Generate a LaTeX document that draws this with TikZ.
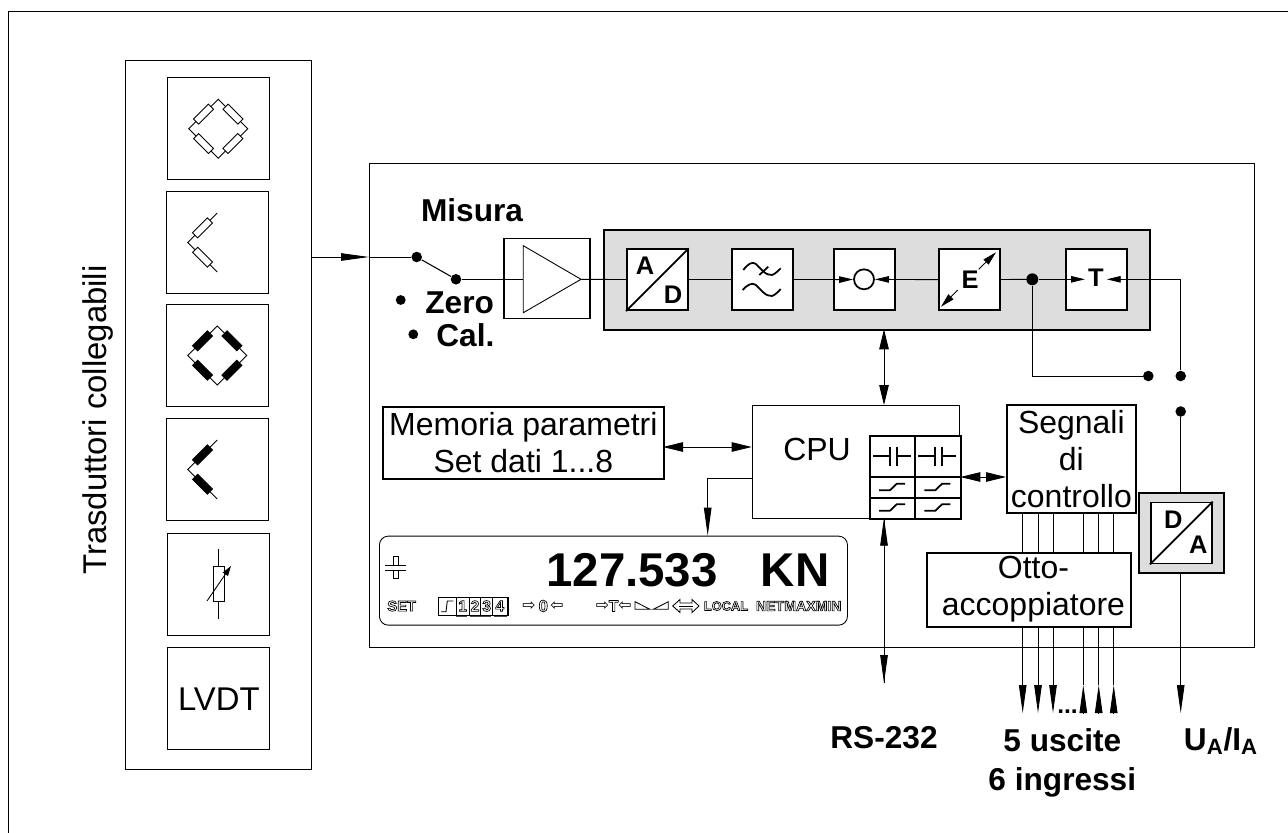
\documentclass[tikz,border=0pt]{standalone}
\usepackage{xcolor}
\usepackage{fontspec}
\setmainfont{Liberation Sans}
\newfontfamily\symfont{DejaVu Sans}
\usetikzlibrary{arrows.meta, positioning, shapes.geometric}
\definecolor{panelgray}{RGB}{221,221,221}
\newcommand{\fs}[1]{\fontsize{#1}{#1}\selectfont}
\newcommand{\hollow}[1]{\special{pdf:code 1 Tr 0.38 w}#1\special{pdf:code 0 Tr}}
\begin{document}
\begin{tikzpicture}[
        x=0.02cm, y=-0.02cm,
        box/.style={rectangle, draw, line width=0.6pt, fill=white, inner sep=0pt, align=center},
        thickbox/.style={rectangle, draw, line width=1pt, fill=white, inner sep=0pt, align=center},
        panel/.style={rectangle, draw, line width=1.1pt, fill=panelgray, inner sep=0pt},
        dot/.style={circle, fill=black, inner sep=0pt, minimum size=6pt},
        smalldot/.style={circle, fill=black, inner sep=0pt, minimum size=5.6pt},
        link/.style={line width=0.5pt},
        arrow/.style={link, -{Triangle[length=5.6mm, width=1.5mm]}},
        shortarrow/.style={link, -{Triangle[length=2.8mm, width=1.3mm]}},
        both/.style={link, {Triangle[length=4mm, width=1.9mm]}-{Triangle[length=4mm, width=1.9mm]}},
        sym/.style={line width=0.5pt},
        iconline/.style={line width=1pt},
        arm/.pic={\draw[sym, fill=#1] (-10.5,-3.6) rectangle (10.5,3.6);},
        label/.style={font=\fs{18}\bfseries, inner sep=0pt, align=center},
        letter/.style={font=\fs{14.5}\bfseries, inner sep=0pt},
        plain/.style={font=\fs{18.2}, inner sep=0pt, align=center},
        lcd/.style={inner sep=0pt}
    ]
    \useasboundingbox (0,0) rectangle (1288,832);
    \fill[white] (0,0) rectangle (1288,832);
    \draw[line width=0.8pt] (8.5,1000) -- (8.5,11.5) -- (1400,11.5);

    % transducer column
    \node[box, minimum width=0.02cm*186, minimum height=0.02cm*709, anchor=north west] (column) at (125,60) {};
    \foreach \name/\xx/\yy in {bridgeA/166.7/77.3, halfA/165.7/191, bridgeB/165.7/304, halfB/165.7/418, pot/167.3/532.7, lvdt/167.3/647.3}
        \node[box, minimum width=2.04cm, minimum height=2.04cm, anchor=north west] (\name) at (\xx,\yy) {};
    \node[plain, font=\fs{18.7}] at (lvdt.center) {LVDT};
    \node[plain, font=\fs{18.7}, rotate=90] (title) at (98,420) {Trasduttori collegabili};

    % resistor arms of the bridges
    \foreach \name/\col in {bridgeA/white, bridgeB/black} {
        \draw[sym] ([xshift=-0.59cm]\name.center) -- ([yshift=0.59cm]\name.center) -- ([xshift=0.59cm]\name.center) -- ([yshift=-0.59cm]\name.center) -- cycle;
        \path (\name.center) ++(-14.7,14.7) pic[rotate=-45] {arm=\col};
        \path (\name.center) ++(14.7,14.7) pic[rotate=45] {arm=\col};
        \path (\name.center) ++(-14.7,-14.7) pic[rotate=45] {arm=\col};
        \path (\name.center) ++(14.7,-14.7) pic[rotate=-45] {arm=\col};
    }
    \foreach \name/\col in {halfA/white, halfB/black} {
        \draw[sym] ([yshift=-0.59cm]\name.center) -- ([xshift=-0.59cm]\name.center) -- ([yshift=0.59cm]\name.center);
        \path (\name.center) ++(-14.7,14.7) pic[rotate=-45] {arm=\col};
        \path (\name.center) ++(-14.7,-14.7) pic[rotate=45] {arm=\col};
    }
    \draw[sym] (218.7,549) -- (218.7,619);
    \draw[sym, fill=white] (213,566) rectangle (224,601);
    \draw[sym, -{Triangle[length=2mm, width=1.2mm]}] (207,601) -- (231,566);

    % main unit
    \node[box, minimum width=0.02cm*885, minimum height=0.02cm*484, anchor=north west] (unit) at (369,163) {};
    \node[label, anchor=base] (misura) at (472,221.7) {Misura};
    \node[dot] (swin) at (416.7,257) {};
    \node[dot] (swout) at (456,279.3) {};
    \draw[link, line width=0.6pt] (swin) -- (swout);
    \node[smalldot] (dotzero) at (400.7,300) {};
    \node[smalldot] (dotcal) at (413.3,334.3) {};
    \node[label, anchor=base west] (zero) at (425,313.3) {Zero};
    \node[label, anchor=base west] (cal) at (436,346.7) {Cal.};

    \draw[arrow] (column.east |- swin) -- (unit.west |- swin);
    \draw[link] (unit.west |- swin) -- (swin);

    \node[thickbox, minimum width=0.02cm*86, minimum height=0.02cm*80, anchor=north west] (amp) at (503.3,237.5) {};
    \draw[link] (swout) -- (523.3,279.3);
    \draw[sym, fill=white] (523.3,245.7) -- (581,279.3) -- (523.3,312.7) -- cycle;

    % gray processing panel
    \node[panel, minimum width=0.02cm*546, minimum height=0.02cm*100, anchor=north west] (panel) at (603.3,229.3) {};
    \node[thickbox, minimum size=1.22cm, anchor=north west] (ad) at (626,248.3) {};
    \node[thickbox, minimum size=1.22cm, anchor=north west] (filter) at (731,248.3) {};
    \node[thickbox, minimum size=1.22cm, anchor=north west] (tare) at (833.3,248.3) {};
    \node[thickbox, minimum size=1.22cm, anchor=north west] (egu) at (938.3,248.3) {};
    \node[thickbox, minimum size=1.22cm, anchor=north west] (ttt) at (1065,248.3) {};

    \draw[link] (581,279.3) -- (ad);
    \draw[link] (ad) -- (filter);
    \draw[link] (filter) -- (tare);
    \draw[link] (egu) -- (1032.3,279.3);
    \node[dot, minimum size=6.8pt] (branch) at (1032.3,279.3) {};

    % A/D
    \draw[iconline] (ad.south west) -- (ad.north east);
    \node[letter] at (645,266) {A};
    \node[letter] at (673,295) {D};
    % filter
    \draw[iconline] (743.3,270) .. controls (748,264) and (752,261) .. (756,264) .. controls (760,268) and (766,276) .. (772,275) .. controls (775,274) and (778,271) .. (780.7,268.3);
    \draw[iconline] (759.3,275) -- (768.3,266.7);
    \draw[iconline] (742.7,290) .. controls (747,285) and (752,282) .. (756,285) .. controls (760,289) and (766,297) .. (772,296) .. controls (775,295) and (778,292) .. (780.7,289);
    % zero
    \node[circle, draw, line width=1pt, fill=white, inner sep=0pt, minimum size=0.4cm] (nullmark) at (864,279.3) {};
    \draw[shortarrow] (tare.west) -- (nullmark);
    \draw[shortarrow] (egu.west) -- (nullmark);
    % E
    \node[letter] at (970,279.5) {E};
    \draw[link, {Triangle[length=2.8mm, width=1.4mm]}-] (941,306.7) -- (957.7,290);
    \draw[link, {Triangle[length=2.8mm, width=1.4mm]}-] (996,252.3) -- (978.7,269.3);
    % T
    \node[letter] at (1096,278) {T};
    \draw[shortarrow] (branch) -- (1085,279.3);
    \coordinate (ttop) at (1180.7,279.3);
    \draw[shortarrow] (ttop) -- (1106.7,279.3);

    % output switch
    \node[dot] (sw2a) at (1148.3,376) {};
    \node[dot] (sw2b) at (1180.7,376) {};
    \node[dot] (sw2c) at (1180.7,411.5) {};
    \draw[link] (branch) |- (sw2a);
    \draw[link] (ttop) -- (sw2b);

    % CPU
    \node[box, minimum width=0.02cm*207.5, minimum height=0.02cm*112.7, anchor=north west] (cpu) at (751.7,405) {};
    \node[plain] (cputext) at (817,449) {CPU};
    \node[box, line width=1.1pt, minimum width=0.02cm*91, minimum height=0.02cm*82.7, anchor=north west] (iface) at (869.3,435) {};
    \draw[line width=1.1pt] (914.7,435) -- (914.7,517.7);
    \draw[line width=1.1pt] (869.3,476.7) -- (960.3,476.7);
    \draw[line width=1.1pt] (869.3,497.7) -- (960.3,497.7);

    \node[thickbox, minimum width=0.02cm*281, minimum height=0.02cm*72, font=\fs{18.2}, anchor=north west] (mem) at (382,406) {Memoria parametri\\[3pt]Set dati 1...8};

    \node[thickbox, minimum width=0.02cm*129, minimum height=0.02cm*108, font=\fs{18.2}, anchor=north west] (sig) at (1006,404) {Segnali\\[3pt]di\\[3pt]controllo};
    \node[thickbox, minimum width=0.02cm*204, minimum height=0.02cm*73.5, anchor=north west] (opto) at (926.3,552.3) {};
    \node[plain] (optotext) at (1033.5,589) {Otto-\\[3pt]accoppiatore};

    \draw[both] (884,329.3) -- (884,405);
    \draw[both] (663,447) -- (751.7,447);
    \draw[both] (960.3,477) -- (1006,477);
    \draw[arrow] (751.7,478) -| (707.7,535.7);
    \draw[arrow] (884,683) -- (884,517.7);
    \draw[arrow] (884,517.7) -- (884,683);

    % interface symbols
    \foreach \xx in {892,937.3} {
        \draw[iconline] (\xx-19,456) -- (\xx-2,456) (\xx+4.7,456) -- (\xx+19,456);
        \draw[iconline] (\xx-2,446.7) -- (\xx-2,466) (\xx+4.7,446.7) -- (\xx+4.7,466);
        \foreach \yy in {487,507.5} {
            \draw[iconline] (\xx-13,\yy+3.2) -- (\xx-2,\yy+3.2) -- (\xx+4.7,\yy-3.2) -- (\xx+13,\yy-3.2);
        }
    }

    % display
    \node[rectangle, draw, rounded corners=5pt, line width=0.5pt, minimum width=0.02cm*468, minimum height=0.02cm*89, anchor=north west] (display) at (379,535.7) {};
    \node[font=\fs{27}\bfseries, inner sep=0pt] (value) at (632,570) {127.533};
    \node[font=\fs{27}\bfseries, inner sep=0pt] (unitkn) at (795,570) {KN};
    \draw[sym] (385,565) -- (406,565) (385,570) -- (406,570);
    \draw[sym] (393.3,556) rectangle (398.3,565);
    \draw[sym] (393.3,570) rectangle (398.3,578);
    \node[lcd, font=\fs{8.4}\bfseries] (lset) at (401.7,606) {\hollow{SET}};
    \node[rectangle, draw, line width=0.7pt, minimum width=0.02cm*69.6, minimum height=0.02cm*18.3, inner sep=0pt, anchor=north west] (relay) at (437.7,596.7) {};
    \draw[sym] (441,611.7) -- (446,611.7) -- (447.3,601) -- (453.3,601);
    \foreach \num/\xx in {1/462.7, 2/475, 3/486.7, 4/499.7}
        \node[lcd, font=\fs{8.8}\bfseries] (rel\num) at (\xx,606) {\hollow{\num}};
    \foreach \xx in {456,469.3,480.7,492.7}
        \draw[sym] (\xx,596.7) -- (\xx,615);
    \draw[line width=0.7pt, black!70] (456,616.3) -- (467,616.3) (470,616.3) -- (491,616.3) (494,616.3) -- (507,616.3);
    \node[lcd, font=\fs{9}\symfont] (zeroa) at (529,606) {⇨};
    \node[lcd, font=\fs{9.5}\bfseries] (zerob) at (543.3,606) {\hollow{0}};
    \node[lcd, font=\fs{9}\symfont] (zeroc) at (557,606) {⇦};
    \node[lcd, font=\fs{9}\symfont] (tarea) at (602.5,606) {⇨};
    \node[lcd, font=\fs{9}\bfseries] (tareb) at (613.7,606) {\hollow{T}};
    \node[lcd, font=\fs{9}\symfont] (tarec) at (625,606) {⇦};
    \draw[sym] (635,601.7) -- (650,609.3) -- (635,609.3) -- cycle;
    \draw[sym] (653.3,609.3) -- (668.3,601.7) -- (668.3,609.3) -- cycle;
    \draw[sym] (672.7,606) -- (680,599.5) -- (680,603) -- (692,603) -- (692,599.5) -- (699,606) -- (692,612.5) -- (692,609) -- (680,609) -- (680,612.5) -- cycle;
    \draw[sym] (679,606) -- (693,606);
    \node[lcd, font=\fs{7.3}\bfseries] (llocal) at (726,606) {\hollow{LOCAL}};
    \node[lcd, font=\fs{8}\bfseries] (lnet) at (770,606) {\hollow{NET}};
    \node[lcd, font=\fs{8}\bfseries] (lmax) at (800,606) {\hollow{MAX}};
    \node[lcd, font=\fs{8}\bfseries] (lmin) at (828.6,606) {\hollow{MIN}};

    % signal lines
    \foreach \xx/\nn in {1022.7/a, 1038/b, 1053/c} {
        \draw[link] (\xx,512.3) -- (\xx,552.3);
        \coordinate (end\nn) at (\xx,713);
        \draw[arrow] (\xx,625.8) -- (end\nn);
    }
    \foreach \xx/\nn in {1083.3/d, 1098.7/e, 1113.7/f} {
        \draw[link] (\xx,512.3) -- (\xx,552.3);
        \coordinate (end\nn) at (\xx,713);
        \draw[link] (\xx,625.8) -- (\xx,685);
        \draw[arrow] (end\nn) -- (\xx,685);
    }
    \node[label, font=\fs{14}\bfseries, anchor=base] (dots) at (1067.5,713) {...};

    % D/A
    \node[panel, minimum width=0.02cm*85, minimum height=0.02cm*80, anchor=north west] (dapanel) at (1138.3,491.7) {};
    \draw[link] (sw2c) -- (sw2c |- dapanel.north);
    \node[thickbox, minimum size=1.22cm, anchor=north west] (da) at (1150,501.7) {};
    \draw[iconline] (da.south west) -- (da.north east);
    \node[letter] at (1173.3,520) {D};
    \node[letter] at (1198.3,545) {A};
    \coordinate (uaend) at (1180.7,713);
    \draw[arrow] (uaend |- dapanel.south) -- (uaend);

    \node[label, anchor=base] (rs) at (884,748) {RS-232};
    \node[label, anchor=base] (outs) at (1062.3,751.7) {5 uscite};
    \node[label, anchor=base] (ins) at (1062.3,790) {6 ingressi};
    \node[label, anchor=base] (ua) at (1221,750) {U\textsubscript{A}/I\textsubscript{A}};
\end{tikzpicture}
\end{document}
